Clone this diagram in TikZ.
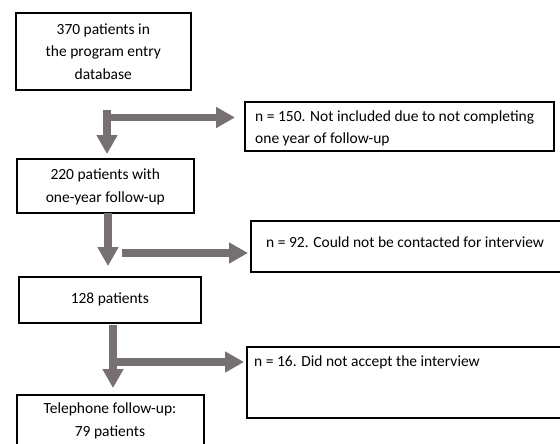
\documentclass[tikz,border=0pt]{standalone}
\usepackage{fontspec}
\setmainfont{Carlito}
\usetikzlibrary{arrows.meta}
\definecolor{arrowgray}{RGB}{118,112,112}
\begin{document}
\begin{tikzpicture}[x=1pt,y=-1pt,
  box/.style={draw=black, line width=1.6pt, inner sep=0pt, anchor=north west},
  txt/.style={font=\fontsize{15.5}{22.5}\selectfont, inner sep=0pt, align=center},
  ltxt/.style={font=\fontsize{15.5}{22.5}\selectfont, inner sep=0pt, anchor=west},
  fat/.style={draw=arrowgray, line width=7.5pt, -{Triangle[width=20pt,length=19pt]}}
]
\useasboundingbox (0,0) rectangle (560,444);
\fill[white] (0,0) rectangle (560,444);

% left boxes
\node[box, minimum width=175pt, minimum height=77pt] (b1) at (15,12) {};
\node[txt] at (b1.center) {370 patients in\\the program entry\\database};
\node[box, minimum width=177pt, minimum height=54pt] (b2) at (16,158) {};
\node[txt] at ([yshift=-1pt]b2.center) {220 patients with\\one-year follow-up};
\node[box, minimum width=182pt, minimum height=46pt] (b3) at (18,276) {};
\node[txt] at (b3.center) {128 patients};
\node[box, minimum width=187pt, minimum height=60pt] (b4) at (16,394) {};
\node[txt] at (110,421) {Telephone follow-up:\\79 patients};

% right boxes
\node[box, minimum width=309pt, minimum height=49pt] (r1) at (244,101) {};
\node[ltxt] at (255,117) {n = 150. Not included due to not completing};
\node[ltxt] at (255,139) {one year of follow-up};
\node[box, minimum width=330pt, minimum height=51pt] (r2) at (250,220) {};
\node[ltxt] at (266,242) {n = 92. Could not be contacted for interview};
\node[box, minimum width=330pt, minimum height=71pt] (r3) at (246,346) {};
\node[ltxt] at (254,362) {n = 16. Did not accept the interview};

% arrows
\coordinate (a1s) at (107,110);
\coordinate (a1c) at (107,117.5);
\coordinate (a1t) at (107,154);
\coordinate (a1h) at (235,117.5);
\draw[fat] (a1s) -- (a1t);
\draw[fat] ([xshift=-3.75pt]a1c) -- (a1h);

\coordinate (a2s) at (108,213);
\coordinate (a2t) at (108,266);
\coordinate (a2c) at (122,253);
\coordinate (a2h) at (248,253);
\draw[fat] (a2s) -- (a2t);
\draw[fat] (a2c) -- (a2h);

\coordinate (a3s) at (113,325);
\coordinate (a3t) at (113,388);
\coordinate (a3c) at (117,362);
\coordinate (a3h) at (244,362);
\draw[fat] (a3s) -- (a3t);
\draw[fat] (a3c) -- (a3h);
\end{tikzpicture}
\end{document}
